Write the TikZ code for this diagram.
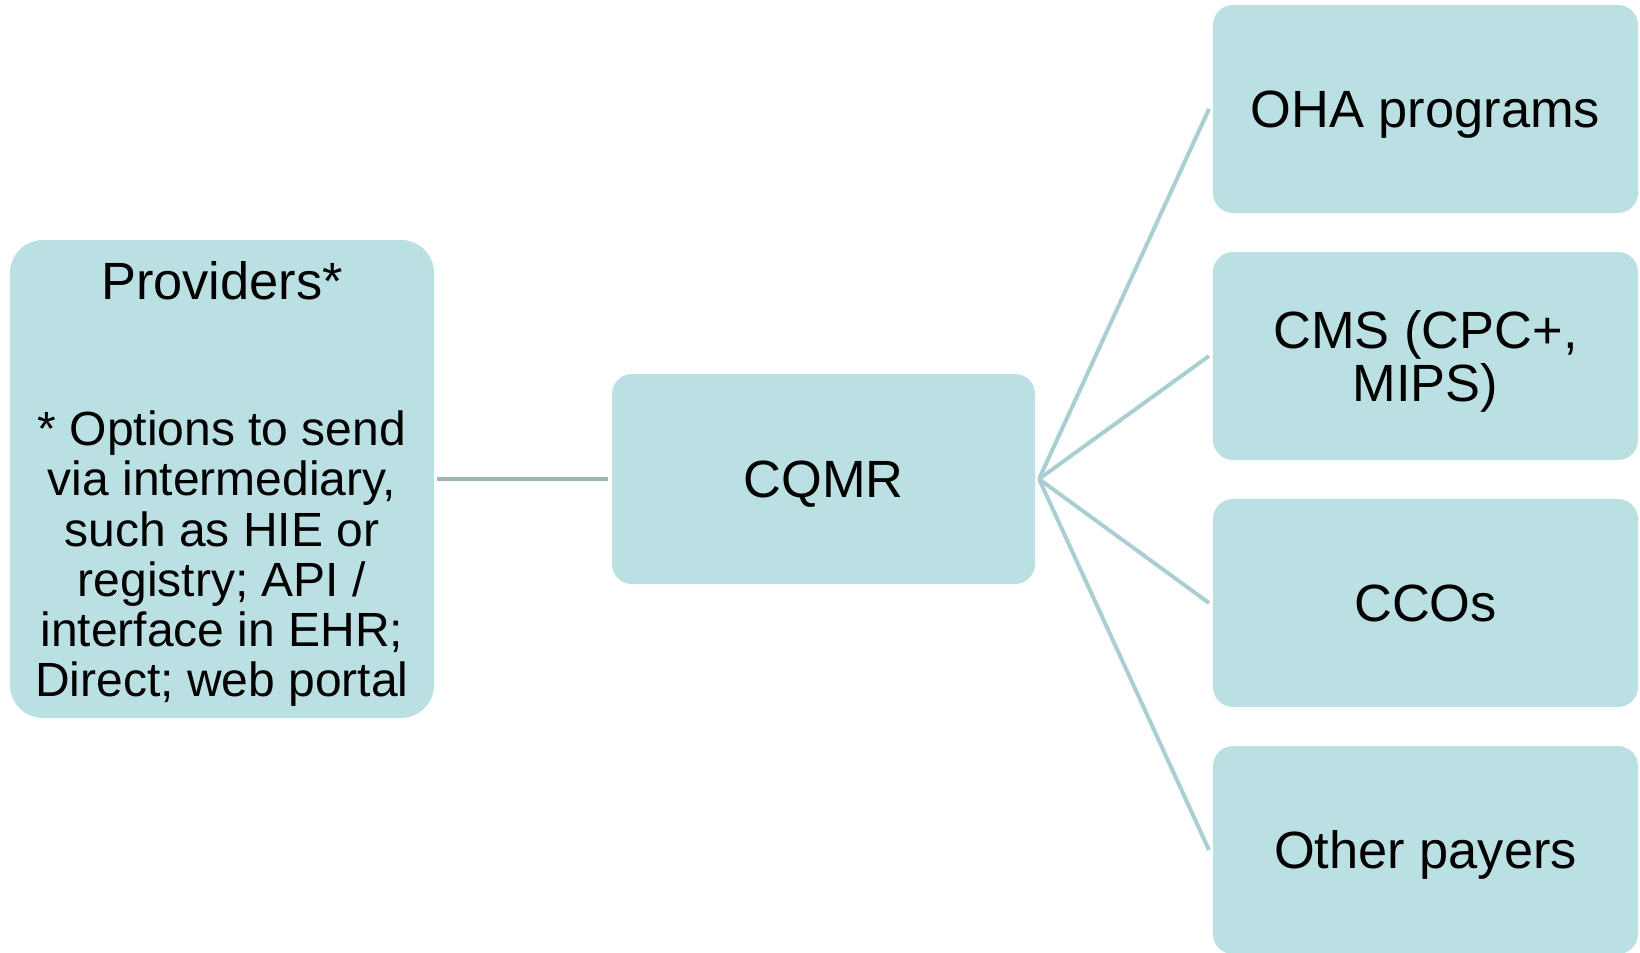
\documentclass[tikz,border=0pt]{standalone}
\usepackage{fontspec}
\setmainfont{Liberation Sans}
\definecolor{boxfill}{HTML}{BBE0E3}
\definecolor{fanline}{HTML}{A9CFD2}
\definecolor{provline}{HTML}{9DB6BA}
\begin{document}
\begin{tikzpicture}[x=0.5pt,y=-0.5pt,
  box/.style={fill=boxfill, draw=none, rounded corners=10pt, align=center,
    font=\fontsize{26.2}{26.7}\selectfont, inner sep=0pt, outer sep=2pt,
    text depth=0pt,
    minimum width=212.5pt, minimum height=104pt},
  provbox/.style={fill=boxfill, draw=none, rounded corners=16.5pt, align=center,
    font=\fontsize{24}{25.1}\selectfont, inner sep=0pt, outer sep=1.5pt,
    minimum width=212pt, minimum height=239pt},
  fan/.style={draw=fanline, line width=2pt},
  feed/.style={draw=provline, line width=2pt}
]
\useasboundingbox (0,0) rectangle (1640,953);
\node[provbox] (prov) at (222,479)
  {\rule{0pt}{24.1pt}{\fontsize{26.2}{25.1}\selectfont Providers*}\\[47.9pt]* Options to send\\via intermediary,\\such as HIE or\\registry; API /\\interface in EHR;\\Direct; web portal};
\node[box, minimum width=211.5pt, minimum height=105pt] (cqmr) at (823.5,479) {CQMR};
\node[box] (oha) at (1425.5,109) {OHA programs};
\node[box] (cms) at (1425.5,356) {CMS (CPC+,\\MIPS)};
\node[box] (cco) at (1425.5,603) {CCOs};
\node[box] (oth) at (1425.5,850) {Other payers};
\draw[feed] (prov.east) -- (cqmr.west);
\draw[fan] (cqmr.east) -- (oha.west);
\draw[fan] (cqmr.east) -- (cms.west);
\draw[fan] (cqmr.east) -- (cco.west);
\draw[fan] (cqmr.east) -- (oth.west);
\end{tikzpicture}
\end{document}
